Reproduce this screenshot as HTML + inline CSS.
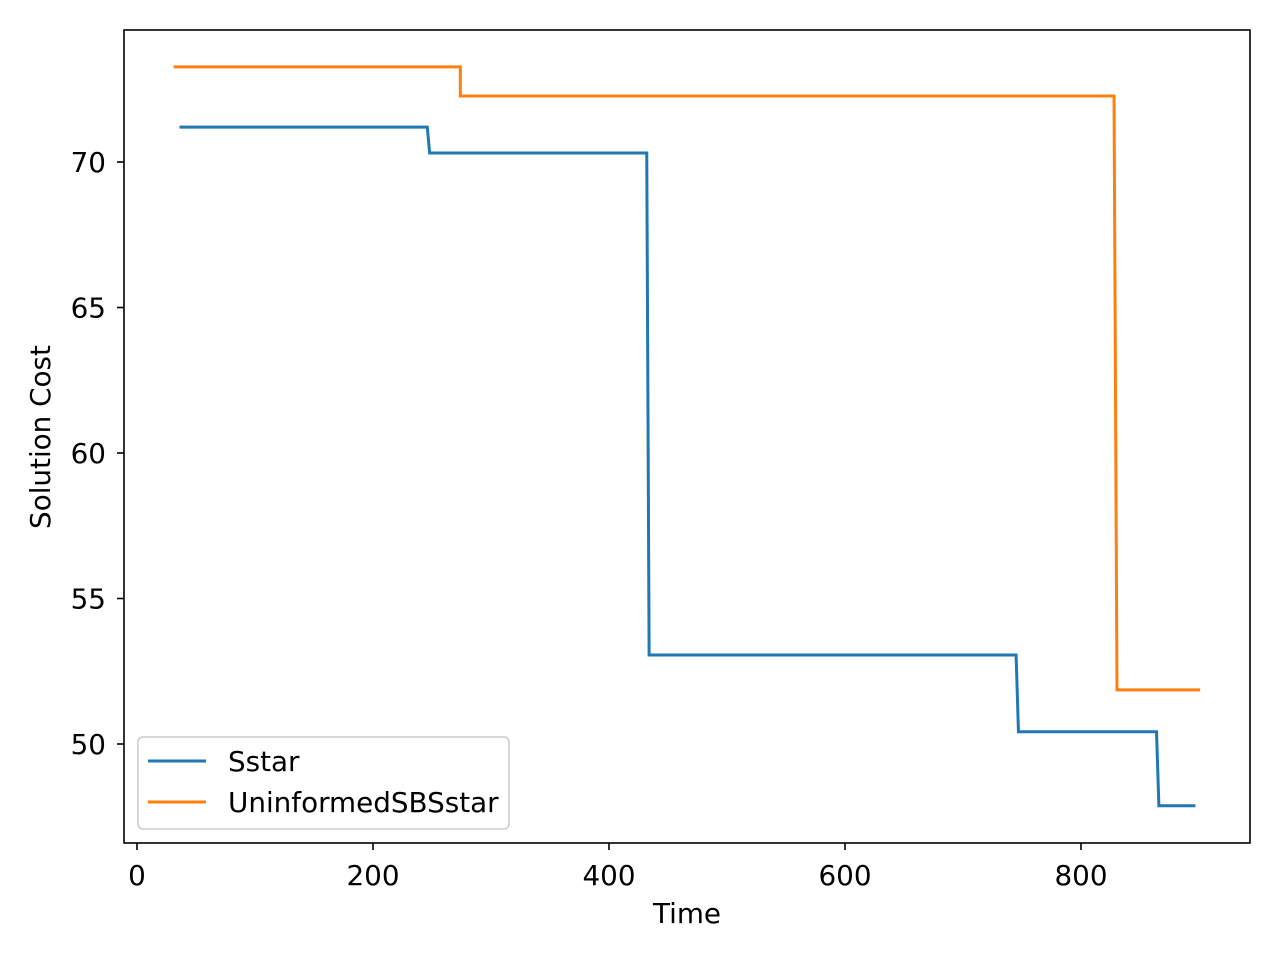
<!DOCTYPE html>
<html><head><meta charset="utf-8"><style>
html,body{margin:0;padding:0;background:#fff;}
svg{display:block;font-family:"DejaVu Sans","Liberation Sans",sans-serif;}
</style></head><body>
<svg id="chart" width="1280" height="960" viewBox="0 0 1280 960">
<rect x="0" y="0" width="1280" height="960" fill="#fff"/>
<g id="series"></g>
<rect x="124" y="30" width="1126" height="813" fill="none" stroke="#000" stroke-width="1.6"/>
<g id="xticks"></g>
<g id="yticks"></g>
<text x="687" y="923" font-size="27.8" text-anchor="middle">Time</text>
<text transform="translate(50,437) rotate(-90)" font-size="27.8" text-anchor="middle">Solution Cost</text>
<g>
<rect x="138" y="737" width="371" height="92" rx="5" fill="#fff" fill-opacity="0.8" stroke="#ccc" stroke-width="1.6"/>
<g>
<line x1="148" y1="761" x2="206" y2="761" stroke="#1f77b4" stroke-width="3"/>
<text x="228" y="771" font-size="27.8">Sstar</text></g>
<g>
<line x1="148" y1="802" x2="206" y2="802" stroke="#ff7f0e" stroke-width="3"/>
<text x="228" y="812" font-size="27.8">UninformedSBSstar</text></g>
</g>
</svg>
<script>
const sstarTimes=[36,246,248,432,434,745,747,864,866,897];
const sstarCosts=[71.2,71.2,70.31,70.31,53.06,53.06,50.42,50.42,47.88,47.88];
const unTimes=[31,274,274,828,830.5,901];
const unCosts=[73.27,73.27,72.27,72.27,51.86,51.86];
const xTicks=[0,200,400,600,800];
const yTicks=[50,55,60,65,70];
const X=v=>137+v*1.18;
const Y=v=>744-(v-50)*29.1;
const NS="http://www.w3.org/2000/svg";
const series=document.getElementById('series');
function line(ts,cs,color,name){
  const p=document.createElementNS(NS,'polyline');
  p.setAttribute('points',ts.map((t,i)=>X(t)+','+Y(cs[i])).join(' '));
  p.setAttribute('fill','none');p.setAttribute('stroke',color);p.setAttribute('stroke-width','3');
  
  
  series.appendChild(p);
}
line(sstarTimes,sstarCosts,'#1f77b4','sstar-line');
line(unTimes,unCosts,'#ff7f0e','uninformedsbsstar-line');
const xg=document.getElementById('xticks');
xTicks.forEach(t=>{
  const l=document.createElementNS(NS,'line');
  l.setAttribute('x1',X(t));l.setAttribute('x2',X(t));l.setAttribute('y1',843);l.setAttribute('y2',850);
  l.setAttribute('stroke','#000');l.setAttribute('stroke-width','1.6');
  
  
  xg.appendChild(l);
  const tx=document.createElementNS(NS,'text');
  tx.setAttribute('x',X(t));tx.setAttribute('y',885);tx.setAttribute('font-size','27.8');tx.setAttribute('text-anchor','middle');
  tx.textContent=t;
  
  
  xg.appendChild(tx);
});
const yg=document.getElementById('yticks');
yTicks.forEach(t=>{
  const l=document.createElementNS(NS,'line');
  l.setAttribute('x1',117);l.setAttribute('x2',124);l.setAttribute('y1',Y(t));l.setAttribute('y2',Y(t));
  l.setAttribute('stroke','#000');l.setAttribute('stroke-width','1.6');
  
  
  yg.appendChild(l);
  const tx=document.createElementNS(NS,'text');
  tx.setAttribute('x',106);tx.setAttribute('y',Y(t)+10);tx.setAttribute('font-size','27.8');tx.setAttribute('text-anchor','end');
  tx.textContent=t;
  
  
  yg.appendChild(tx);
});
</script>
</body></html>
